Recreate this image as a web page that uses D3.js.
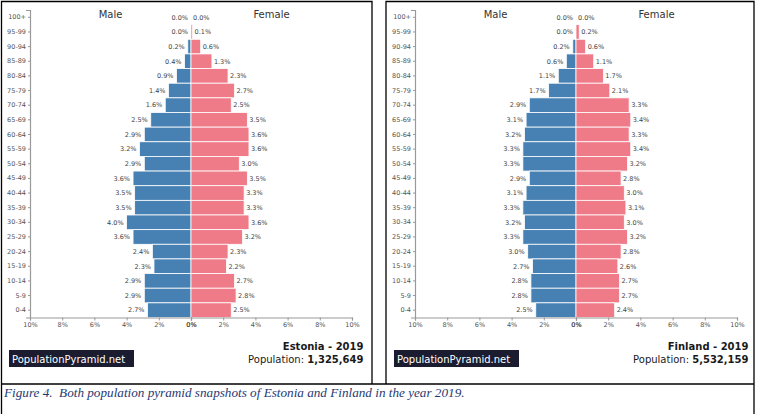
<!DOCTYPE html>
<html><head><meta charset="utf-8">
<script src="https://cdn.jsdelivr.net/npm/d3@7"></script>
<style>
html,body{margin:0;padding:0;background:#fff;}
svg{display:block;}
</style></head>
<body>
<svg id="chart" width="758" height="414"></svg>
<script>
const ages = ["100+","95-99","90-94","85-89","80-84","75-79","70-74","65-69","60-64","55-59","50-54","45-49","40-44","35-39","30-34","25-29","20-24","15-19","10-14","5-9","0-4"];
const estoniaMale   = [0.0,0.0,0.2,0.4,0.9,1.4,1.6,2.5,2.9,3.2,2.9,3.6,3.5,3.5,4.0,3.6,2.4,2.3,2.9,2.9,2.7];
const estoniaFemale = [0.0,0.1,0.6,1.3,2.3,2.7,2.5,3.5,3.6,3.6,3.0,3.5,3.3,3.3,3.6,3.2,2.3,2.2,2.7,2.8,2.5];
const finlandMale   = [0.0,0.0,0.2,0.6,1.1,1.7,2.9,3.1,3.2,3.3,3.3,2.9,3.1,3.3,3.2,3.3,3.0,2.7,2.8,2.8,2.5];
const finlandFemale = [0.0,0.2,0.6,1.1,1.7,2.1,3.3,3.4,3.3,3.4,3.2,2.8,3.0,3.1,3.0,3.2,2.8,2.6,2.7,2.7,2.4];
const xTicks = [0,2,4,6,8,10];
const countries = ["Estonia - 2019","Finland - 2019"];
const populations = ["1,325,649","5,532,159"];
const caption = "Figure 4.  Both population pyramid snapshots of Estonia and Finland in the year 2019.";

const svg = d3.select("#chart");
const FONT = "'DejaVu Sans', sans-serif";
const BLUE = "#4781b3", PINK = "#ef7a88";

function drawPanel(offsetX, male, female, country, pop) {
  const g = svg.append("g").attr("transform", `translate(${offsetX},0)`);
  const left = 30, mid = 191, right = 352, top = 10, bottom = 317.5;
  const xL = d3.scaleLinear().domain([10,0]).range([left, mid]);
  const xR = d3.scaleLinear().domain([0,10]).range([mid, right]);
  const y = d3.scaleBand().domain(ages).range([top, bottom]).padding(0);
  const bw = y.bandwidth();

  g.append("text").attr("x", xL(5)).attr("y", 17.5).attr("text-anchor","middle")
    .attr("font-family", FONT).attr("font-size", 10).attr("fill","#333").text("Male");
  g.append("text").attr("x", xR(5)).attr("y", 17.5).attr("text-anchor","middle")
    .attr("font-family", FONT).attr("font-size", 10).attr("fill","#333").text("Female");

  g.selectAll("rect.m").data(ages).join("rect").attr("class","m")
    .attr("x", (d,i) => xL(male[i])).attr("y", d => y(d))
    .attr("width", (d,i) => mid - xL(male[i])).attr("height", bw)
    .attr("fill", BLUE).attr("stroke","#fff").attr("stroke-width",0.8);
  g.selectAll("rect.f").data(ages).join("rect").attr("class","f")
    .attr("x", mid).attr("y", d => y(d))
    .attr("width", (d,i) => xR(female[i]) - mid).attr("height", bw)
    .attr("fill", PINK).attr("stroke","#fff").attr("stroke-width",0.8);

  g.selectAll("text.ml").data(ages).join("text").attr("class","ml")
    .attr("x", (d,i) => xL(male[i]) - 3).attr("y", d => y(d) + bw/2)
    .attr("dy","0.35em").attr("text-anchor","end")
    .attr("font-family", FONT).attr("font-size", 6.5).attr("fill","#444")
    .text((d,i) => male[i].toFixed(1) + "%");
  g.selectAll("text.fl").data(ages).join("text").attr("class","fl")
    .attr("x", (d,i) => xR(female[i]) + 2).attr("y", d => y(d) + bw/2)
    .attr("dy","0.35em").attr("text-anchor","start")
    .attr("font-family", FONT).attr("font-size", 6.5).attr("fill","#444")
    .text((d,i) => female[i].toFixed(1) + "%");

  const ya = g.append("g").attr("transform", `translate(${left},0)`)
    .call(d3.axisLeft(y).tickSizeInner(2).tickSizeOuter(4).tickPadding(2));
  ya.selectAll("text").attr("font-family", FONT).attr("font-size", 6.5).attr("fill","#555");
  ya.selectAll("line").attr("stroke","#999");
  ya.select(".domain").attr("stroke","#999").attr("stroke-width",1.2);

  [xL, xR].forEach(sc => {
    const xa = g.append("g").attr("transform", `translate(0,${bottom})`)
      .call(d3.axisBottom(sc).tickValues(xTicks).tickFormat(d => d + "%").tickSizeInner(3).tickSizeOuter(3).tickPadding(2));
    xa.selectAll("text").attr("font-family", FONT).attr("font-size", 6.5).attr("fill","#555");
    xa.selectAll("line").attr("stroke","#999");
    xa.select(".domain").attr("stroke","#999").attr("stroke-width",1.2);
  });

  g.append("rect").attr("x", 9).attr("y", 350).attr("width", 125).attr("height", 17).attr("fill","#1b1c30");
  g.append("text").attr("x", 12).attr("y", 362.5).attr("font-family", FONT).attr("font-size", 10)
    .attr("fill","#fff").text("PopulationPyramid.net");

  g.append("text").attr("x", 363.5).attr("y", 349.5).attr("text-anchor","end")
    .attr("font-family", FONT).attr("font-size", 10).attr("font-weight","bold").attr("fill","#1a1a1a").text(country);
  const pt = g.append("text").attr("x", 363.5).attr("y", 363).attr("text-anchor","end")
    .attr("font-family", FONT).attr("font-size", 10).attr("fill","#1a1a1a");
  pt.append("tspan").text("Population: ");
  pt.append("tspan").attr("font-weight","bold").text(pop);
}

drawPanel(0, estoniaMale, estoniaFemale, countries[0], populations[0]);
drawPanel(385, finlandMale, finlandFemale, countries[1], populations[1]);

const frame = svg.append("g").attr("stroke","#000").attr("stroke-width",1.3).attr("fill","none");
frame.append("path").attr("d","M1.5,414V1.5H372V384");
frame.append("path").attr("d","M386,384V1.5H754V414");
frame.append("path").attr("d","M1.5,384H754");

const cap = svg.append("text").attr("x", 4).attr("y", 397)
  .style("white-space","pre")
  .attr("font-family","'Liberation Serif', serif").attr("font-style","italic")
  .attr("font-size", 12).attr("fill","#1f3a73").text(caption);
const len = cap.node().getComputedTextLength();
cap.attr("font-size", 12 * 461 / len);
</script>
</body></html>
